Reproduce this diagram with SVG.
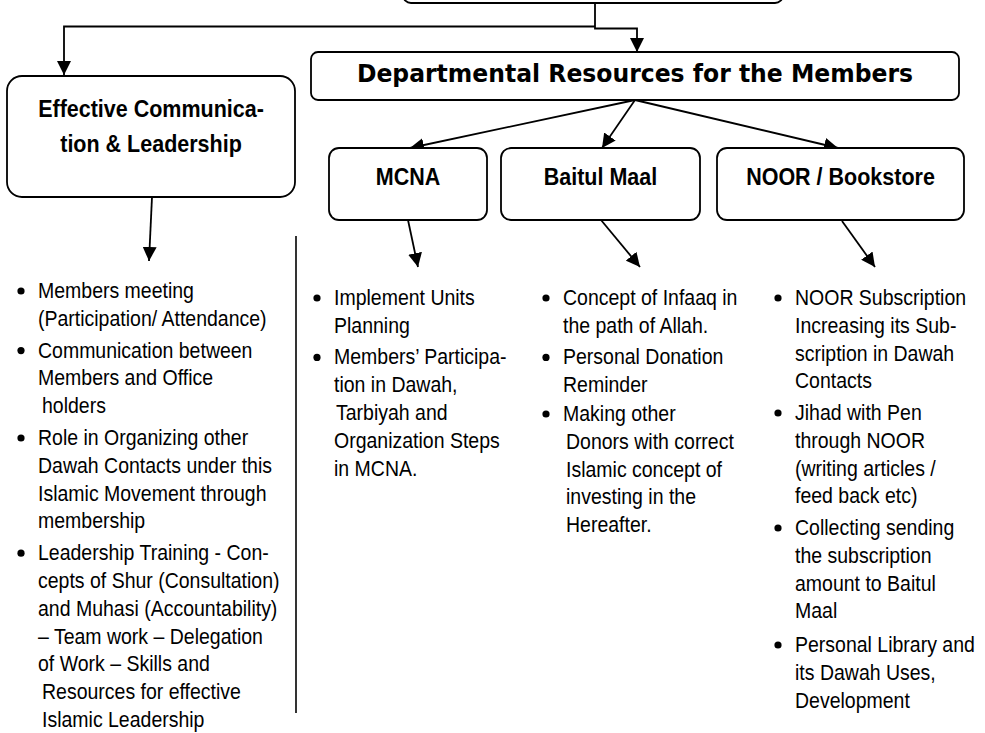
<svg xmlns="http://www.w3.org/2000/svg" width="985" height="733" viewBox="0 0 985 733">
  <style>
    .box { fill: #ffffff; stroke: #000000; stroke-width: 1.8; }
    .wire { fill: none; stroke: #000000; stroke-width: 1.8; }
    .rule { fill: none; stroke: #000000; stroke-width: 1.6; }
    .label { font-family: "Liberation Sans", Arial, sans-serif; font-size: 21.5px; font-weight: bold; fill: #000000; text-anchor: middle; }
    .title { font-family: "DejaVu Sans", Verdana, sans-serif; font-size: 23.5px; font-weight: bold; fill: #000000; text-anchor: middle; }
    .item { font-family: "Liberation Sans", Arial, sans-serif; font-size: 19.5px; fill: #000000; }
    .dot { fill: #000000; }
  </style>
  <defs>
    <marker id="arrow" markerUnits="userSpaceOnUse" markerWidth="14" markerHeight="14" refX="14" refY="7" orient="auto">
      <path d="M0,0 L14,7 L0,14 z" fill="#000000"/>
    </marker>
  </defs>

  <rect width="985" height="733" fill="#ffffff"/>

  <!-- connectors -->
  <g id="connectors">
    <path class="wire" d="M595,26.5 H64 V75" marker-end="url(#arrow)"/>
    <path class="wire" d="M595,3 V28.5 H637 V52" marker-end="url(#arrow)"/>
    <line class="wire" x1="635" y1="100" x2="410" y2="148" marker-end="url(#arrow)"/>
    <line class="wire" x1="635" y1="100" x2="602" y2="148" marker-end="url(#arrow)"/>
    <line class="wire" x1="635" y1="100" x2="838" y2="148" marker-end="url(#arrow)"/>
    <line class="wire" x1="152" y1="197" x2="149" y2="261" marker-end="url(#arrow)"/>
    <line class="wire" x1="408" y1="220" x2="418" y2="267" marker-end="url(#arrow)"/>
    <line class="wire" x1="601" y1="220" x2="640" y2="267" marker-end="url(#arrow)"/>
    <line class="wire" x1="842" y1="221" x2="875" y2="267" marker-end="url(#arrow)"/>
  </g>

  <!-- column divider -->
  <line class="rule" x1="296" y1="236" x2="296" y2="713"/>

  <!-- root box, cut off at the top edge -->
  <g id="root">
    <rect class="box" x="403" y="-30" width="380" height="33" rx="8"/>
  </g>

  <g id="departmental">
    <rect class="box" x="311" y="52" width="648" height="48" rx="7"/>
    <text class="title" transform="translate(635,82) scale(1,1.07)">Departmental Resources for the Members</text>
  </g>

  <g id="communication">
    <rect class="box" x="7" y="76" width="288" height="121" rx="15"/>
    <text class="label" transform="translate(151,117) scale(1,1.1)"><tspan x="0" y="0">Effective Communica-</tspan><tspan x="0" y="31.8">tion &amp; Leadership</tspan></text>
  </g>

  <g id="mcna">
    <rect class="box" x="329" y="148" width="158" height="72" rx="10"/>
    <text class="label" transform="translate(408,185) scale(1,1.1)">MCNA</text>
  </g>

  <g id="baitul-maal">
    <rect class="box" x="501" y="148" width="199" height="72" rx="10"/>
    <text class="label" transform="translate(600.5,185) scale(1,1.1)">Baitul Maal</text>
  </g>

  <g id="noor">
    <rect class="box" x="717" y="148" width="247" height="72" rx="10"/>
    <text class="label" transform="translate(840.5,185) scale(1,1.1)">NOOR / Bookstore</text>
  </g>

  <!-- communication & leadership points -->
  <g id="list-communication">
    <circle class="dot" cx="21" cy="291" r="3.6"/>
    <circle class="dot" cx="21" cy="350.6" r="3.6"/>
    <circle class="dot" cx="21" cy="438" r="3.6"/>
    <circle class="dot" cx="21" cy="553.2" r="3.6"/>
    <text class="item" transform="translate(0,298) scale(1,1.1)">
      <tspan x="38" y="0">Members meeting</tspan>
      <tspan x="38" y="25.27">(Participation/ Attendance)</tspan>
      <tspan x="38" y="54.18">Communication between</tspan>
      <tspan x="38" y="79.45">Members and Office</tspan>
      <tspan x="42" y="104.73">holders</tspan>
      <tspan x="38" y="133.64">Role in Organizing other</tspan>
      <tspan x="38" y="158.91">Dawah Contacts under this</tspan>
      <tspan x="38" y="184.18">Islamic Movement through</tspan>
      <tspan x="38" y="209.45">membership</tspan>
      <tspan x="38" y="238.36">Leadership Training - Con-</tspan>
      <tspan x="38" y="263.64">cepts of Shur (Consultation)</tspan>
      <tspan x="38" y="288.91">and Muhasi (Accountability)</tspan>
      <tspan x="38" y="314.18">– Team work – Delegation</tspan>
      <tspan x="38" y="339.45">of Work – Skills and</tspan>
      <tspan x="42" y="364.73">Resources for effective</tspan>
      <tspan x="42" y="390">Islamic Leadership</tspan>
    </text>
  </g>

  <!-- MCNA points -->
  <g id="list-mcna">
    <circle class="dot" cx="317" cy="298" r="3.6"/>
    <circle class="dot" cx="317" cy="357.4" r="3.6"/>
    <text class="item" transform="translate(0,305) scale(1,1.1)">
      <tspan x="334" y="0">Implement Units</tspan>
      <tspan x="334" y="25.27">Planning</tspan>
      <tspan x="334" y="54">Members’ Participa-</tspan>
      <tspan x="334" y="79.27">tion in Dawah,</tspan>
      <tspan x="336" y="104.55">Tarbiyah and</tspan>
      <tspan x="334" y="129.82">Organization Steps</tspan>
      <tspan x="334" y="155.09">in MCNA.</tspan>
    </text>
  </g>

  <!-- Baitul Maal points -->
  <g id="list-baitul-maal">
    <circle class="dot" cx="546" cy="298" r="3.6"/>
    <circle class="dot" cx="546" cy="357.4" r="3.6"/>
    <circle class="dot" cx="546" cy="414" r="3.6"/>
    <text class="item" transform="translate(0,305) scale(1,1.1)">
      <tspan x="563" y="0">Concept of Infaaq in</tspan>
      <tspan x="563" y="25.27">the path of Allah.</tspan>
      <tspan x="563" y="54">Personal Donation</tspan>
      <tspan x="563" y="79.27">Reminder</tspan>
      <tspan x="563" y="105.45">Making other</tspan>
      <tspan x="566" y="130.73">Donors with correct</tspan>
      <tspan x="566" y="156">Islamic concept of</tspan>
      <tspan x="566" y="181.27">investing in the</tspan>
      <tspan x="566" y="206.55">Hereafter.</tspan>
    </text>
  </g>

  <!-- NOOR / Bookstore points -->
  <g id="list-noor">
    <circle class="dot" cx="778" cy="298" r="3.6"/>
    <circle class="dot" cx="778" cy="413" r="3.6"/>
    <circle class="dot" cx="778" cy="528" r="3.6"/>
    <circle class="dot" cx="778" cy="645" r="3.6"/>
    <text class="item" transform="translate(0,305) scale(1,1.1)">
      <tspan x="795" y="0">NOOR Subscription</tspan>
      <tspan x="795" y="25.27">Increasing its Sub-</tspan>
      <tspan x="795" y="50.55">scription in Dawah</tspan>
      <tspan x="795" y="75.82">Contacts</tspan>
      <tspan x="795" y="104.55">Jihad with Pen</tspan>
      <tspan x="795" y="129.82">through NOOR</tspan>
      <tspan x="795" y="155.09">(writing articles /</tspan>
      <tspan x="795" y="180.36">feed back etc)</tspan>
      <tspan x="795" y="209.09">Collecting sending</tspan>
      <tspan x="795" y="234.36">the subscription</tspan>
      <tspan x="795" y="259.64">amount to Baitul</tspan>
      <tspan x="795" y="284.91">Maal</tspan>
      <tspan x="795" y="315.45">Personal Library and</tspan>
      <tspan x="795" y="340.73">its Dawah Uses,</tspan>
      <tspan x="795" y="366">Development</tspan>
    </text>
  </g>
</svg>
